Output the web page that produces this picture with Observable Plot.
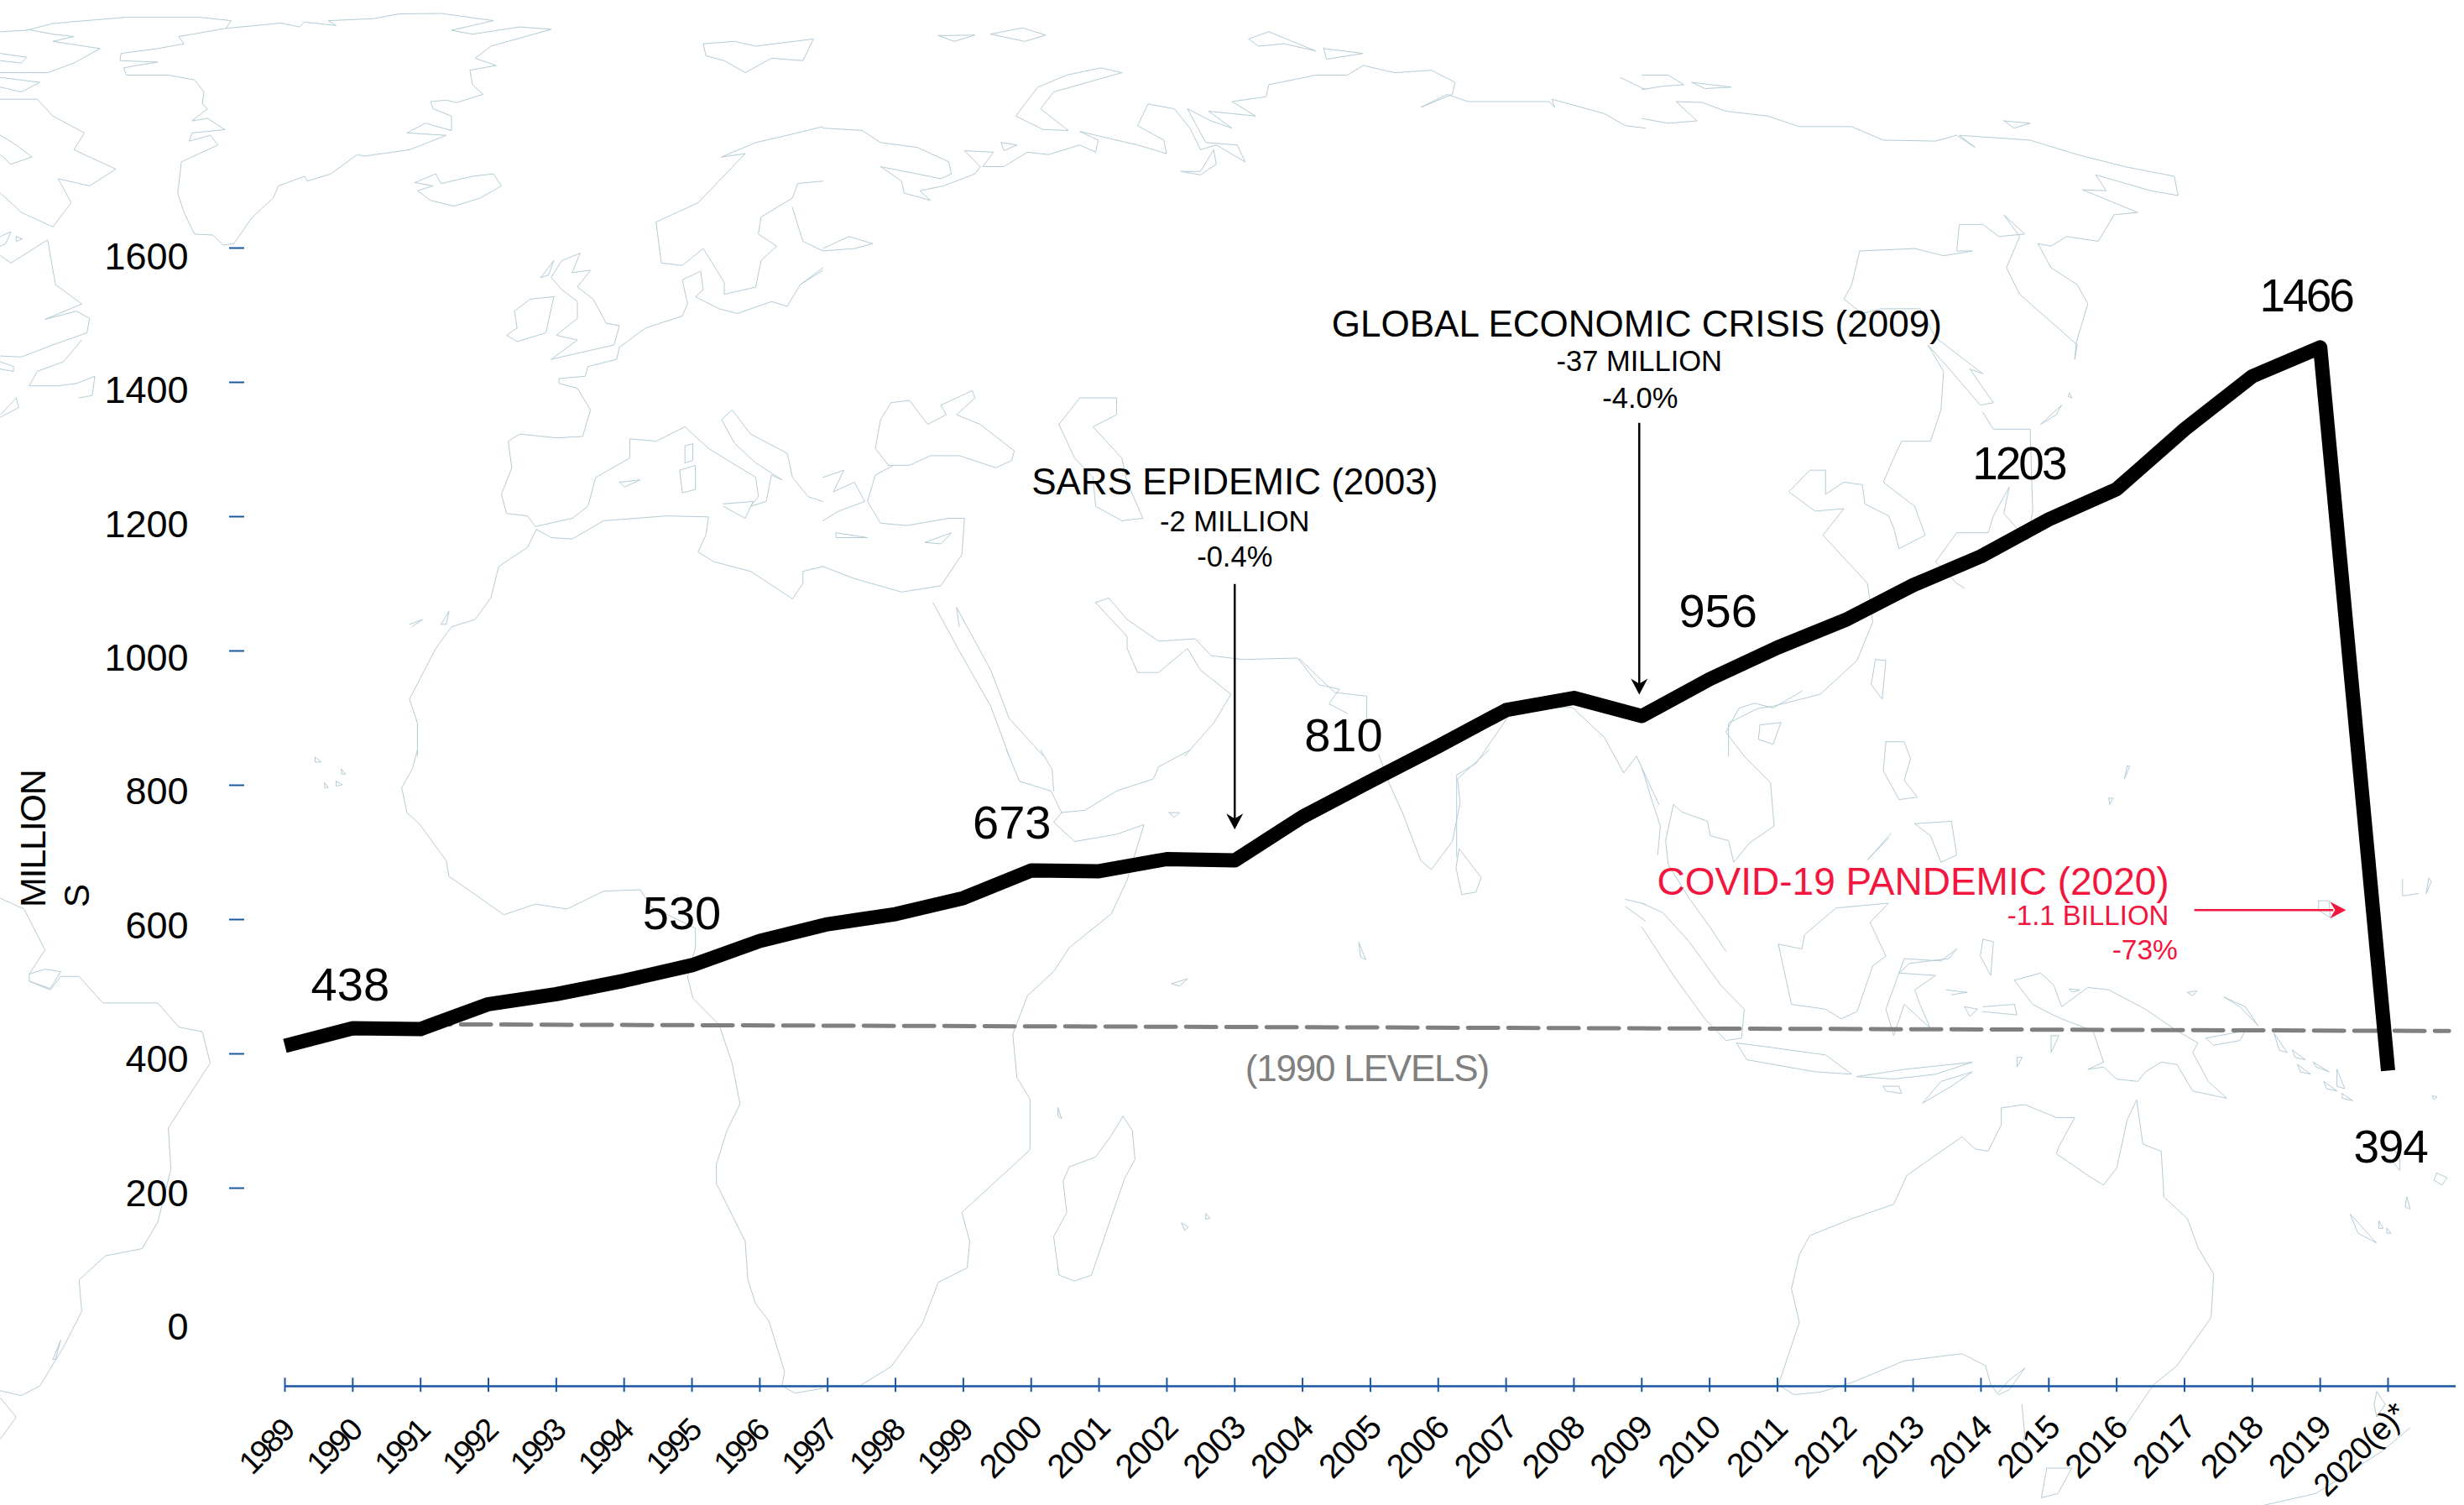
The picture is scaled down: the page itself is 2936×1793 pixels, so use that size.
<!DOCTYPE html>
<html><head><meta charset="utf-8">
<script src="https://cdn.jsdelivr.net/npm/d3@7"></script>
<script src="https://cdn.jsdelivr.net/npm/@observablehq/plot@0.6"></script>
<style>
html,body{margin:0;padding:0;background:#fff}
svg{display:block;font-family:"Liberation Sans",Arial,sans-serif}
.tight4 text{letter-spacing:-3px}
.tight text{letter-spacing:-1.2px}
.yr19 text{letter-spacing:-3px}
.yr20 text{letter-spacing:-1px}
</style></head><body><div id="chart"></div>
<script>
// ---- chart data
const years=[1989,1990,1991,1992,1993,1994,1995,1996,1997,1998,1999,2000,2001,2002,2003,2004,2005,2006,2007,2008,2009,2010,2011,2012,2013,2014,2015,2016,2017,2018,2019,2020];
const arrivals=[412,438,437,474,489,509,532,568,593,608,632,673,672,690,688,753,806,858,912,930,903,958,1005,1046,1098,1141,1196,1241,1330,1409,1452,375];
const yTicks=[0,200,400,600,800,1000,1200,1400,1600];
const yMarks=[200,400,600,800,1000,1200,1400,1600];
const yearLabels=years.map(y=>y===2020?"2020(e)*":String(y));
const baseYears=[1991,2020.9];
const baseLevels=[444,434];

// ---- coastline tracings: each group is a sheet [left, top, width, height] with polylines in a 1568 x 1568 sheet unit
const sheetArctic=[0,0,980,900], sheetN=[980,0,980,900], sheetNE=[1956,0,980,900], sheetSW=[0,893,980,900], sheetS=[980,893,980,900], sheetSE=[1956,800,980,900], sheetBay=[1100,320,1200,700], sheetTas=[1900,1000,1036,793];
const coastArctic=[
[0,65,50,62,100,48,130,45,240,35,380,35,440,42,430,58,535,47,570,55,580,45,640,52,625,42,710,38,760,28,840,27,940,42,860,62,900,70,990,55,1050,60,935,95,905,120,945,135,895,145,900,175,920,195,870,212,850,207,820,210,825,225,860,240,860,270,810,255,775,275,850,280,780,310,695,323,680,320,630,360,585,375,580,365,530,385,520,410,480,450,445,505,425,508,405,487,370,485,350,440,338,400,345,335,415,300,400,280,360,292,365,275,395,272,428,268,395,245,365,250,395,225,385,215,388,190,370,165,320,155,240,155,235,140,260,135,300,128,228,125,230,110,300,100,350,90,340,75,430,58],
[0,110,50,118,40,130,0,125],[50,60,100,70,140,75,100,85,190,100,140,130,90,150,0,150],
[0,160,75,170,40,190,0,180],[0,205,70,205,100,240,160,275,140,310,220,350,170,385,110,370,135,420,100,470,40,440,0,400],
[0,280,30,300,60,325,20,340,0,320],
[0,490,20,480,10,505,0,510],[30,490,42,495,30,500,30,490],
[0,530,20,545,90,497,105,590,155,630,85,662,145,645,170,660,165,690,100,715,40,740,0,738],
[155,705,120,750,70,770,55,800,110,800,145,795,180,780,175,820,150,825],[0,750,25,760,25,770,0,765],[0,860,30,825,35,845,0,865],
[790,378,830,360,840,380,900,365,940,360,955,385,915,410,865,427,820,415,795,395,825,385,790,378],
[1340,90,1400,85,1440,95,1550,80,1530,125,1470,120,1420,150,1380,125,1345,115,1340,90],
[1055,615,1010,620,980,645,985,680,965,695,985,708,1040,690,1050,640,1055,615],
[1105,525,1070,540,1050,575,1070,600,1100,625,1100,660,1060,695,1100,705,1050,745,1170,715,1180,675,1155,670,1130,620,1100,595,1125,560,1090,565,1105,525],
[1030,575,1055,540,1045,570,1030,575],
[1375,325,1420,318,1330,420,1250,460,1260,545,1300,550,1340,515,1380,585,1380,610,1440,595,1450,540,1480,510,1445,485,1450,450,1510,410,1520,380,1568,375],
[1375,325,1440,295,1500,280,1568,262],[1510,430,1530,500,1568,520],[1568,560,1525,590],
[1180,720,1230,680,1300,655,1310,630,1300,580,1335,562,1340,600,1325,615,1370,640,1405,650,1470,625,1500,635,1525,590,1568,555],
[1180,720,1175,745,1120,760,1115,780,1065,785,1065,795,1100,805,1125,850,1110,905,1060,908,990,900,968,915,975,970,955,1025,965,1065,1005,1070,1020,1092,1090,1075,1120,1050,1135,990,1200,950,1200,910,1250,915,1305,885,1350,930,1440,990,1445,1030,1430,1050,1460,1040,1470,985,1490,995,1440,960,1400,920,1375,870,1395,850,1430,900,1500,940,1510,990,1540,1030,1568,1040],
[1305,925,1320,920,1320,955,1305,960,1305,925],[1295,975,1325,965,1325,1015,1300,1022,1295,975],[1378,1045,1435,1040,1420,1075,1378,1050],[1180,1000,1220,995,1190,1010,1180,1000],
[1022,1098,1050,1115,1090,1118,1150,1080,1270,1070,1350,1072,1345,1110,1330,1145,1360,1165,1430,1185,1510,1242,1530,1210,1530,1185,1568,1175],
[1022,1098,1005,1135,950,1175,935,1240,905,1285,860,1300,830,1345,780,1450,795,1500,795,1568],
[780,1295,805,1285,785,1300],[840,1295,855,1268,850,1295,840,1295]
];
const coastN=[
[220,73,290,72,250,85,220,73],[320,70,380,57,425,72,385,85,320,70],
[570,150,530,140,465,155,410,180,385,215,368,240,420,268,468,270,415,225,440,190,570,150],
[0,265,75,270,110,295,180,305,240,335,245,360,225,370,110,345,150,375,155,400,205,415,185,395,230,385,290,360,300,345,270,312,325,315,305,345,345,345,390,315,430,320,490,300,520,315,525,290,490,272,540,285,600,300,655,318,650,290,600,260,620,215,670,225,700,265,720,310,750,300,805,335,790,300,730,295,695,225,740,250,780,265,735,230,825,240,780,210,845,200,850,175,940,155,1000,155,1030,135,1090,150,1160,145,1205,170,1200,195,1140,222,1190,195,1230,210,1385,210,1395,222,1390,205,1490,235,1530,260,1568,265],
[683,355,720,355,745,310,750,340,720,362,683,355],
[812,80,850,65,940,105,880,90,830,95,812,80],[955,100,1030,110,960,122,955,100],[340,295,370,300,345,312,340,295],
[0,515,50,490,95,505,60,515,0,520],[1520,160,1568,185],
[125,965,100,930,110,870,130,835,165,830,200,880,235,860,225,840,285,810,290,825,255,860,300,880,365,935,360,955,330,970,260,945,205,945,165,965,125,965],
[450,880,490,825,560,825,560,860,515,885,570,950,580,1000,610,1075,570,1080,520,1050,515,990,480,950,450,880],
[135,965,100,985,85,1040,110,1085,160,1090,240,1075,270,1075,265,1150,225,1215,150,1228,60,1200,0,1175],
[195,1125,245,1105,225,1128,195,1125],[25,1105,85,1115,25,1115,25,1105],
[0,990,40,975,20,1020,60,1000,80,1040,30,1060,0,1080],
[210,1250,260,1350,320,1465,355,1568],[255,1260,320,1390,355,1490,420,1568],[255,1260,260,1300],
[520,1250,545,1240,580,1285,640,1330,710,1325,740,1360,800,1368,905,1365,945,1420,985,1430,965,1460,1000,1480],
[520,1250,580,1320,580,1345,600,1395,640,1395,695,1345,720,1390,778,1440,745,1500,690,1568]
];
const coastNE=[
[0,155,50,155,80,175,40,178,0,185],[95,170,170,180,120,183,95,170],[690,250,740,255,710,265,690,250],
[0,245,50,255,105,250,65,210,115,212,160,230,240,240,300,262,400,262,460,290,560,292,600,280,635,305,605,280,740,290,830,320,920,345,1015,365,1022,405,970,395,865,362,885,395,840,393,945,440,900,445,870,500,810,490,780,510,755,505,780,555,830,590,850,630,828,710,825,745,830,715,720,610,695,555,720,490,690,445,730,485,680,490,650,465,605,465,600,520,630,520,575,530,520,515,415,520,400,590,385,620,420,650,455,640,530,640,560,700,650,775,625,765,670,835,645,840,590,770,545,715,575,770,570,850,550,915,495,915,480,950,460,1000,520,1050,540,1110,490,1138,480,1095,470,1070,425,1045,420,1005,385,1000,350,1025,350,975,320,975,280,1020,330,1060,385,1055,345,1110,430,1210,440,1290,410,1370,340,1440,250,1465,220,1470,165,1500,165,1568],
[650,855,670,890,740,890,745,1060,735,1120,690,1065,700,1010,670,1070,660,1105,600,1105,560,1165,600,1210,615,1220],
[760,880,800,840,790,860,760,880],[815,815,820,825,812,822,815,815],
[445,1368,465,1370,458,1450,437,1420,445,1368]
];
const coastSW=[
[795,0,785,40,765,78,775,130,800,155,850,230,855,262,960,342,1020,320,1080,330,1150,293,1220,290,1240,325,1325,370,1325,410,1310,470,1320,515,1370,570,1395,650,1410,735,1385,790,1365,860,1365,900,1420,1020,1425,1100,1440,1150,1465,1185,1495,1290,1490,1320,1515,1335,1568,1325],
[0,308,45,330,85,415,55,465,55,480,95,498,115,470,150,470,195,525,260,525,300,525,340,575,385,585,400,650,355,725,320,785,325,870,300,980,270,1035,200,1050,150,1100,155,1165,120,1240,75,1320,40,1340,0,1330],
[55,465,85,455,115,460,95,495,55,480],[0,1345,30,1385,0,1430],[100,1265,115,1225,105,1265,100,1265],
[600,15,612,25,600,25,600,15],[650,40,658,50,650,50,650,40],[618,68,625,78,618,78,618,68],[640,65,652,72,640,75,640,65]
];
const coastS=[
[10,1320,70,1320,130,1280,190,1190,220,1105,275,1075,280,1020,265,960,320,905,395,830,395,725,370,680,362,590,390,510,440,460,470,410,550,340,580,270,612,155,560,175,480,190,440,150,455,130],
[350,0,375,65,435,85,455,130,500,125,560,85,630,60,640,35,700,0],[415,0,437,40,440,85],
[572,760,590,790,595,850,575,890,512,1090,480,1102,450,1090,440,1010,465,960,458,895,470,865,520,845,550,800,572,760],
[1213,205,1255,265,1245,295,1218,300,1207,245,1213,205],
[1060,10,1080,70,1105,130,1140,230,1160,248,1200,190,1215,110,1210,60,1270,0],
[660,130,680,130,670,140,660,130],[665,485,695,475,680,490,665,485],[1022,400,1035,435,1025,430,1022,400],[448,742,455,765,448,760,448,742],[684,982,697,990,690,998,684,982],[730,962,738,972,730,974,730,962],
[1530,310,1568,320],[1530,325,1568,355]
];
const coastBay=[
[585,1040,640,1130,690,1140,690,1200],
[920,1170,1010,1170,1060,1250,1090,1345,1110,1300,1145,1430],[920,1170,860,1320,830,1350,830,1568]
];
const coastSE=[
[0,200,20,270,35,320,30,380],
[305,40,250,75,215,65,185,75,160,125,195,175,245,230,252,320,205,355,175,395,165,350,130,340,125,310,75,290,60,275,45,350,50,400,90,470,130,530,160,580],
[225,110,265,105,250,150,222,140,225,110],
[0,480,40,500,90,560,150,650,195,700,190,760,160,765,120,720,60,630,0,530],
[180,770,250,780,350,795,400,835,330,830,200,805,180,770],[410,840,500,825,630,810,560,835,480,845,410,840],[535,895,570,850,630,830,590,860,535,895],[460,860,490,860,495,875,465,870,460,860],
[260,565,305,575,310,545,370,490,470,480,435,520,465,590,440,610,410,705,380,720,350,700,285,690,260,565],
[600,575,570,600,500,595,485,640,465,700,480,755,500,690,550,740,530,690,520,660,560,630,490,625,510,605,585,595,600,575],
[465,145,500,145,512,180,500,225,525,260,490,265,460,205,465,145],[520,315,590,310,600,380,570,395,550,340,520,315],[475,335,430,390,470,345],
[650,555,670,560,665,630,645,590,650,555],[580,660,620,665,590,670],[615,695,640,700,625,715,615,695],[650,695,710,690,715,712,650,705],[780,755,795,755,780,790,780,755],[715,800,725,800,715,820,715,800],
[710,640,760,625,785,650,800,695,850,655,890,660,960,700,1020,745,1060,770,1050,790,1080,850,1115,885,1050,870,1020,815,990,810,960,830,945,850,905,845,880,820,850,825,880,810,860,745,800,720,780,710,745,690,710,640],
[1075,760,1150,745,1140,765,1090,775,1075,760],[1110,675,1150,695,1175,735,1140,695,1110,675],[1040,665,1058,662,1050,672,1040,665],[815,658,835,660,820,665,815,658],
[1205,750,1230,790,1215,785,1205,750],[1240,785,1265,805,1245,800,1240,785],[1280,810,1310,830,1285,820,1280,810],[1325,825,1340,865,1325,860,1325,825],[1300,850,1325,870,1305,865,1300,850],[1335,875,1355,890,1335,885,1335,875],[1250,815,1275,835,1255,830,1250,815],
[1350,1125,1400,1185,1365,1165,1350,1125],[1405,1140,1413,1155,1405,1155,1405,1140],[1420,1155,1428,1165,1420,1165,1420,1155],[1458,1090,1465,1115,1455,1110,1458,1090],
[1450,430,1450,465,1480,460],[1500,428,1495,460,1505,435,1500,428],[1515,1040,1535,1050,1525,1065,1510,1055,1515,1040],[1290,475,1310,475,1312,510,1290,495,1290,475],
[1430,985,1445,1010,1445,1035,1430,1015],[1507,880,1516,882,1510,888,1507,880],[925,195,930,195,920,222,925,195],[890,262,898,262,892,275,890,262],
[685,905,730,898,790,925,825,925,795,985,790,1000,850,1045,880,1065,905,1030,925,930,943,888,955,980,990,995,995,1090,1040,1135,1060,1195,1090,1250,1085,1340,1020,1440,975,1480,920,1568],
[260,1480,300,1350,285,1280,300,1210,320,1170,400,1135,480,1105,505,1045,610,965,635,990,660,995,685,940,685,905],
[260,1480,290,1500,340,1495,400,1475,500,1430,610,1415,655,1440,665,1480,680,1500,700,1490,730,1445,700,1470,680,1495]
];
const coastTas=[
[815,1480,860,1480,835,1540,805,1550,815,1480],[1470,1385,1420,1440,1300,1540,1205,1568],[1410,1300,1425,1330,1410,1360,1405,1330,1410,1300],[770,1330,775,1400,770,1440]
];
const coastGroups=[[sheetArctic,coastArctic],[sheetN,coastN],[sheetNE,coastNE],[sheetSW,coastSW],[sheetS,coastS],[sheetSE,coastSE],[sheetBay,coastBay],[sheetTas,coastTas]];

// ---- texts
const valueLabels=[["438",1990,-3,-51],["530",1995,-12,-61],["673",2000,-23,-56],["810",2005,-32,-54],["956",2010,10,-80]];
const valueLabelsTight=[["394",2020,3,92]];
const valueLabels4=[["1203",2015,-36,-65],["1466",2019,-17,-61]];
const annotationsDark=[["SARS EPIDEMIC (2003)",2003,1251,44,0],["-2 MILLION",2003,1192,34.5,0],["-0.4%",2003,1139,34.5,0],["GLOBAL ECONOMIC CRISIS (2009)",2009,1486,44,-6],["-37 MILLION",2009,1431,34.5,-3],["-4.0%",2009,1376,34.5,-2]];
const annotationsRed=[["COVID-19 PANDEMIC (2020)",2013,655,46,"middle"],["-1.1 BILLION",2016.77,605,33,"end"],["-73%",2016.9,554,33.5,"end"]];

const xDomain=[1989,2020+81/((2845-339)/31)];
const W=2936,H=1793,mL=339,mR=10,mT=295,mB=218;
const BLUE="#1a56a0",RED="#f2163f",GREY="#808080",COAST="#b3ccd6";
const fx=d3.scaleLinear().domain([mL,W-mR]).range(xDomain);
const fy=d3.scaleLinear().domain([H-mB,mT]).range([0,1600]);
const coastRows=[];
let coastId=0;
for(const [[l,t,w,h],lines] of coastGroups){
  for(const ln of lines){
    coastId++;
    for(let i=0;i<ln.length;i+=2) coastRows.push({id:coastId,x:fx(l+ln[i]*w/1568),y:fy(t+ln[i+1]*h/1568)});
  }
}
const rows=years.map((y,i)=>({year:y,value:arrivals[i]}));
const valueAt=y=>arrivals[years.indexOf(y)];
const head={draw(c){c.moveTo(0,0);c.lineTo(-10,-19);c.lineTo(0,-13);c.lineTo(10,-19);c.closePath();}};
const axisY0=-95;

const marks=[
  Plot.line(coastRows,{x:"x",y:"y",z:"id",stroke:COAST,strokeWidth:1}),
  Plot.line(baseYears.map((y,i)=>({y0:y,v:baseLevels[i]})),{x:"y0",y:"v",stroke:GREY,strokeWidth:5,strokeDasharray:"36 12"}),
  Plot.line(rows,{x:"year",y:"value",stroke:"#000",strokeWidth:17,strokeLinejoin:"round",strokeLinecap:"butt"}),
  // axes
  Plot.ruleY(yMarks,{y:d=>d,x1:fx(273),x2:fx(291),stroke:BLUE,strokeWidth:2}),
  Plot.text(yTicks,{x:()=>fx(224),y:d=>d-d/1600*6.25,dy:6,text:d=>String(d),textAnchor:"end",lineAnchor:"middle",fontSize:45,fill:"#000"}),
  Plot.ruleY([axisY0],{x1:1989,x2:xDomain[1],stroke:BLUE,strokeWidth:2.5}),
  Plot.ruleX(years,{x:d=>d,y1:axisY0+12,y2:axisY0-9,stroke:BLUE,strokeWidth:2}),
  Plot.text(years.filter(y=>y<2000),{x:d=>d,y:-186,text:d=>String(d),rotate:-45,lineAnchor:"middle",fontSize:38,fill:"#000",dx:-22,className:"yr19"}),
  Plot.text(years.filter(y=>y>=2000&&y<2020),{x:d=>d,y:-186,text:d=>String(d),rotate:-45,lineAnchor:"middle",fontSize:40,fill:"#000",dx:-24,className:"yr20"}),
  Plot.text([2020],{x:d=>d,y:-190,text:()=>yearLabels[yearLabels.length-1],rotate:-45,lineAnchor:"middle",fontSize:38,fill:"#000",dx:-33,className:"yr20"}),
  // value labels
  ...valueLabels.map(([t,yr,dx,dy])=>Plot.text([t],{x:()=>yr,y:()=>valueAt(yr),text:d=>d,dx,dy,fontSize:56,fill:"#000",lineAnchor:"middle"})),
  ...valueLabelsTight.map(([t,yr,dx,dy])=>Plot.text([t],{x:()=>yr,y:()=>valueAt(yr),text:d=>d,dx,dy,fontSize:55,fill:"#000",lineAnchor:"middle",className:"tight"})),
  ...valueLabels4.map(([t,yr,dx,dy])=>Plot.text([t],{x:()=>yr,y:()=>valueAt(yr),text:d=>d,dx,dy,fontSize:55,fill:"#000",lineAnchor:"middle",className:"tight4"})),
  // annotations
  ...annotationsDark.map(([t,x,y,fs,dx])=>Plot.text([t],{x:()=>x,y:()=>y,text:d=>d,fontSize:fs,fill:"#000",lineAnchor:"middle",dx})),
  ...annotationsRed.map(([t,x,y,fs,a])=>Plot.text([t],{x:()=>x,y:()=>y,text:d=>d,fontSize:fs,fill:RED,lineAnchor:"middle",textAnchor:a})),
  Plot.text(["(1990 LEVELS)"],{x:()=>2004.95,y:()=>377,text:d=>d,fontSize:44,fill:GREY,lineAnchor:"middle",className:"tight"}),
  // arrows
  Plot.ruleX([2003],{x:d=>d,y1:1099,y2:744,stroke:"#000",strokeWidth:2.5}),
  Plot.dot([2003],{x:d=>d,y:()=>734,symbol:head,fill:"#000",stroke:"none",r:10}),
  Plot.ruleX([2009],{x:d=>d,y1:1339,y2:945,dx:-3,stroke:"#000",strokeWidth:2.5}),
  Plot.dot([2009],{x:d=>d,y:()=>935,dx:-3,symbol:head,fill:"#000",stroke:"none",r:10}),
  Plot.ruleY([614],{y:d=>d,x1:2017.15,x2:2019.2,stroke:RED,strokeWidth:2.5}),
  Plot.dot([614],{y:d=>d,x:()=>2019.38,symbol:head,rotate:-90,fill:RED,stroke:"none",r:10}),
  // side title
  Plot.text(["MILLION"],{x:()=>1985.3,y:()=>618,text:d=>d,rotate:-90,textAnchor:"start",lineAnchor:"middle",fontSize:43,fill:"#000",className:"tight"}),
  Plot.text(["S"],{x:()=>1985.95,y:()=>618,text:d=>d,rotate:-90,textAnchor:"start",lineAnchor:"middle",fontSize:42,fill:"#000"})
];
const chart=Plot.plot({width:W,height:H,marginLeft:mL,marginRight:mR,marginTop:mT,marginBottom:mB,
  x:{domain:xDomain,axis:null},y:{domain:[0,1600],axis:null},style:{background:"#fff",overflow:"hidden"},marks});
document.getElementById("chart").appendChild(chart);
</script></body></html>
